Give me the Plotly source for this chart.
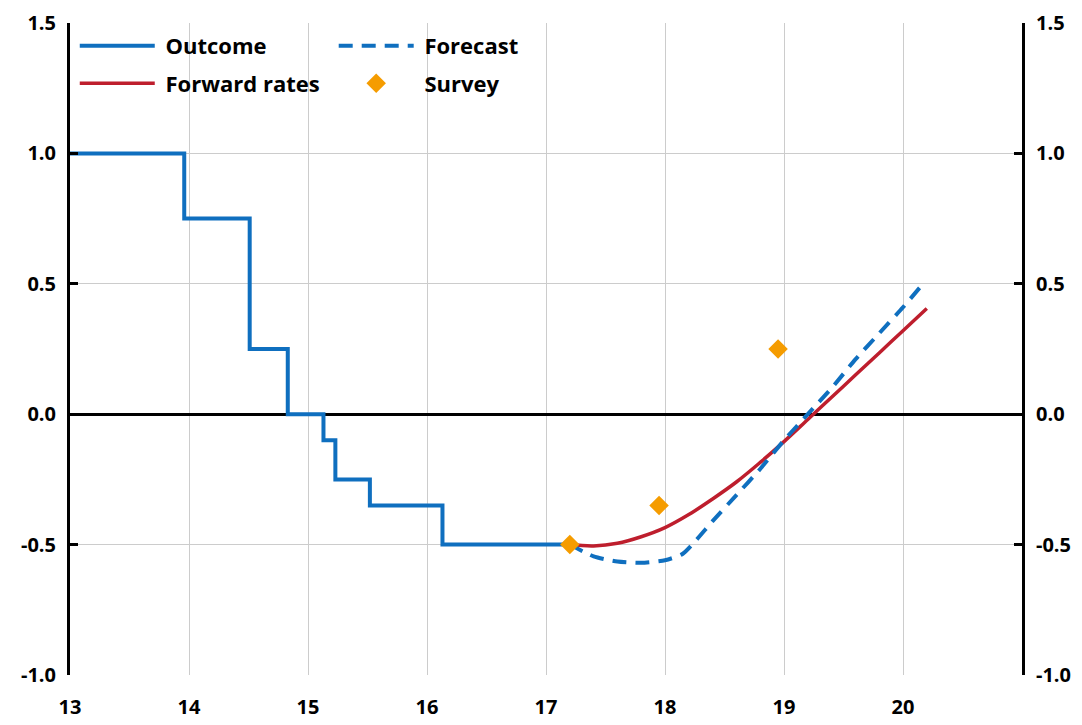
import plotly.graph_objects as go

# Outcome (step function, policy rate)
outcome_x = [13.0, 13.96, 13.96, 14.51, 14.51, 14.83, 14.83, 15.13, 15.13, 15.23, 15.23, 15.52, 15.52, 16.13, 16.13, 17.2]
outcome_y = [1.0, 1.0, 0.75, 0.75, 0.25, 0.25, 0.0, 0.0, -0.1, -0.1, -0.25, -0.25, -0.35, -0.35, -0.5, -0.5]

# Forecast (dashed)
forecast_x = [17.2, 17.4, 17.6, 17.8, 18.0, 18.15, 18.4, 18.6, 18.8, 19.0, 19.2, 19.4, 19.6, 19.8, 20.0, 20.15]
forecast_y = [-0.50, -0.545, -0.565, -0.57, -0.56, -0.535, -0.41, -0.31, -0.21, -0.10, 0.0, 0.10, 0.21, 0.31, 0.41, 0.49]

# Forward rates
forward_x = [17.2, 17.4, 17.6, 17.8, 18.0, 18.2, 18.4, 18.6, 18.8, 19.0, 19.2, 19.4, 19.6, 19.8, 20.0, 20.2]
forward_y = [-0.50, -0.505, -0.495, -0.47, -0.435, -0.385, -0.325, -0.26, -0.185, -0.105, -0.02, 0.065, 0.15, 0.235, 0.32, 0.405]

# Survey
survey_x = [17.2, 17.95, 18.95]
survey_y = [-0.50, -0.35, 0.25]

x_ticks = [13, 14, 15, 16, 17, 18, 19, 20]
y_ticks = [-1.0, -0.5, 0.0, 0.5, 1.0, 1.5]
y_ticktext = ["-1.0", "-0.5", "0.0", "0.5", "1.0", "1.5"]

BLUE = "#0F6FBF"
RED = "#BE1E2D"
ORANGE = "#F59C00"
FONT = "Open Sans"

fig = go.Figure()
fig.add_trace(go.Scatter(x=outcome_x, y=outcome_y, mode="lines", name=" Outcome",
                         line=dict(color=BLUE, width=4), legend="legend", legendgroup="a"))
fig.add_trace(go.Scatter(x=forward_x, y=forward_y, mode="lines", name=" Forward rates",
                         line=dict(color=RED, width=3.5, shape="spline"), legend="legend", legendgroup="b"))
fig.add_trace(go.Scatter(x=forecast_x, y=forecast_y, mode="lines", name=" Forecast",
                         line=dict(color=BLUE, width=4, dash="14px,9px", shape="spline", smoothing=0.6),
                         legend="legend2", legendgroup="c"))
fig.add_trace(go.Scatter(x=survey_x, y=survey_y, mode="markers", name=" Survey",
                         marker=dict(symbol="diamond", color=ORANGE, size=15), yaxis="y2",
                         legend="legend2", legendgroup="d"))

axis_font = dict(family=FONT, size=20, color="black", weight="bold")
leg_font = dict(family=FONT, size=22, color="black", weight="bold")
fig.update_layout(
    width=1074, height=717,
    margin=dict(l=62, r=60, t=14.5, b=50),
    plot_bgcolor="white", paper_bgcolor="white",
    font=dict(family=FONT, size=20, color="black", weight="bold"),
    xaxis=dict(range=[13, 21], tickvals=x_ticks, showgrid=True, gridcolor="#CCCCCC", gridwidth=1.3,
               showline=False, zeroline=False, ticks="", tickfont=axis_font, ticklabelstandoff=18,
               automargin=False),
    yaxis=dict(range=[-1.0, 1.5], tickvals=y_ticks, ticktext=y_ticktext, showgrid=True,
               gridcolor="#CCCCCC", gridwidth=1.3, showline=True, linecolor="black", linewidth=3,
               ticks="inside", ticklen=8, tickwidth=3, tickcolor="black",
               zeroline=True, zerolinecolor="black", zerolinewidth=3, tickfont=axis_font,
               ticklabelstandoff=7, automargin=False),
    yaxis2=dict(range=[-1.0, 1.5], tickvals=y_ticks, ticktext=y_ticktext, overlaying="y", side="right",
                showgrid=False, showline=True, linecolor="black", linewidth=3,
                ticks="inside", ticklen=8, tickwidth=3, tickcolor="black", zeroline=False,
                tickfont=axis_font, ticklabelstandoff=7, automargin=False),
    legend=dict(x=0.005, y=0.997, xanchor="left", yanchor="top", bgcolor="rgba(0,0,0,0)",
                itemwidth=75, tracegroupgap=6, font=leg_font),
    legend2=dict(x=0.277, y=0.997, xanchor="left", yanchor="top", bgcolor="rgba(0,0,0,0)",
                 itemwidth=75, tracegroupgap=6, font=leg_font),
    showlegend=True,
)

fig.write_html("out.html")
